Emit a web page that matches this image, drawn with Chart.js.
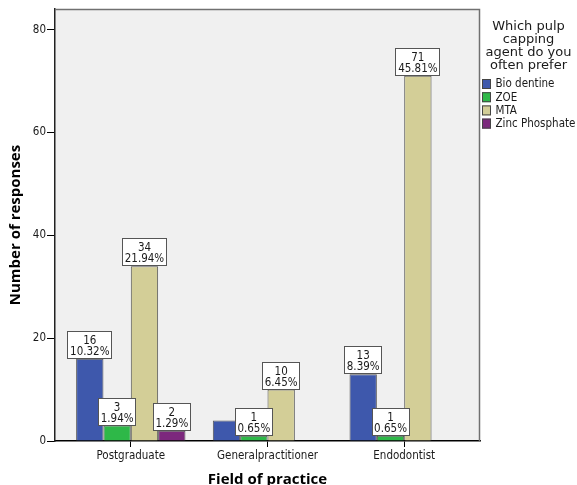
<!DOCTYPE html>
<html>
<head>
<meta charset="utf-8">
<script src="https://cdn.jsdelivr.net/npm/chart.js@4"></script>
<style>
  html, body { margin: 0; padding: 0; background: #fff; }
  #wrap { width: 577px; height: 485px; position: relative; }
</style>
</head>
<body>
<div id="wrap"><canvas id="chart" width="577" height="485"></canvas></div>
<script>
// Field of practice vs. preferred pulp capping agent (counts of responses)
const categories = ['Postgraduate', 'Generalpractitioner', 'Endodontist'];
const seriesNames = ['Bio dentine', 'ZOE', 'MTA', 'Zinc Phosphate'];
const bioDentine = [16, 4, 13];
const zoe = [3, 1, 1];
const mta = [34, 10, 71];
const zincPhosphate = [2, null, null];
const yTicks = [0, 20, 40, 60, 80];
const legendTitle = ['Which pulp', 'capping', 'agent do you', 'often prefer'];
const xTitle = 'Field of practice';
const yTitle = 'Number of responses';

const seriesValues = [bioDentine, zoe, mta, zincPhosphate];
const seriesColors = ['#3E58AC', '#2EB848', '#D3CE97', '#7C287D'];
const total = seriesValues.flat().reduce((s, v) => s + (v || 0), 0);

const smallFont = '"DejaVu Sans Condensed", "DejaVu Sans", sans-serif';
const smallSize = 11.5;
const titleFont = '"Open Sans", "DejaVu Sans", sans-serif';

// Grey plot panel behind the bars, with a thin grey frame on top and right
const plotPanel = {
  id: 'plotPanel',
  beforeDraw(chart) {
    const { ctx, chartArea: a } = chart;
    ctx.save();
    ctx.fillStyle = '#F0F0F0';
    ctx.fillRect(a.left, a.top, a.right - a.left, a.bottom - a.top);
    ctx.restore();
  },
  afterDraw(chart) {
    const { ctx, chartArea: a } = chart;
    ctx.save();
    ctx.strokeStyle = '#707070';
    ctx.lineWidth = 1.5;
    ctx.beginPath();
    ctx.moveTo(a.left, a.top + 0.5);
    ctx.lineTo(a.right - 0.5, a.top + 0.5);
    ctx.lineTo(a.right - 0.5, a.bottom);
    ctx.stroke();
    ctx.restore();
  }
};

// Boxed count / percentage labels above each bar; lower labels win when boxes collide
const valueLabels = {
  id: 'valueLabels',
  afterDatasetsDraw(chart) {
    const ctx = chart.ctx;
    ctx.save();
    ctx.font = smallSize + 'px ' + smallFont;
    const items = [];
    chart.data.datasets.forEach((ds, di) => {
      const meta = chart.getDatasetMeta(di);
      meta.data.forEach((bar, i) => {
        const v = seriesValues[di][i];
        if (v == null) return;
        const lines = [String(v), (v / total * 100).toFixed(2) + '%'];
        const w = Math.ceil(Math.max(...lines.map(t => ctx.measureText(t).width))) + 5;
        const h = 28;
        const base = Math.round(bar.y);
        items.push({ x0: Math.round(bar.x - w / 2), y0: base - h, w, h, lines, cx: bar.x, base });
      });
    });
    items.sort((a, b) => b.base - a.base);
    const kept = [];
    items.forEach(it => {
      const hit = kept.some(k => it.x0 < k.x0 + k.w && k.x0 < it.x0 + it.w &&
                                 it.y0 < k.y0 + k.h && k.y0 < it.y0 + it.h);
      if (!hit) kept.push(it);
    });
    kept.forEach(it => {
      ctx.fillStyle = '#FFFFFF';
      ctx.fillRect(it.x0, it.y0, it.w, it.h);
      ctx.strokeStyle = '#555555';
      ctx.lineWidth = 1;
      ctx.strokeRect(it.x0 + 0.5, it.y0 + 0.5, it.w - 1, it.h - 1);
      ctx.fillStyle = '#1a1a1a';
      ctx.textAlign = 'center';
      ctx.textBaseline = 'alphabetic';
      ctx.fillText(it.lines[0], it.cx, it.base - 15.5);
      ctx.fillText(it.lines[1], it.cx, it.base - 4);
    });
    ctx.restore();
  }
};

// Legend at the right with a wrapped title
const sideLegend = {
  id: 'sideLegend',
  afterDraw(chart) {
    const { ctx, chartArea: a, width } = chart;
    const cx = (a.right + width) / 2;
    ctx.save();
    ctx.fillStyle = '#1a1a1a';
    ctx.font = '13px "DejaVu Sans", sans-serif';
    ctx.textAlign = 'center';
    ctx.textBaseline = 'alphabetic';
    legendTitle.forEach((t, i) => ctx.fillText(t, cx, 29.5 + i * 13.3));
    ctx.font = smallSize + 'px ' + smallFont;
    ctx.textAlign = 'left';
    ctx.textBaseline = 'middle';
    seriesNames.forEach((name, i) => {
      const top = 79 + i * 13.2;
      const bx = a.right + 2;
      ctx.fillStyle = seriesColors[i];
      ctx.fillRect(bx, top, 9, 10);
      ctx.strokeStyle = '#444';
      ctx.lineWidth = 1;
      ctx.strokeRect(bx + 0.5, top + 0.5, 8, 9);
      ctx.fillStyle = '#1a1a1a';
      ctx.fillText(name, bx + 13.5, top + 5.5);
    });
    ctx.restore();
  }
};

const datasets = seriesNames.map((name, si) => ({
  label: name,
  data: seriesValues[si].map((v, i) => ({ x: i, y: v })),
  backgroundColor: seriesColors[si],
  borderColor: '#555555',
  borderWidth: 1
}));

new Chart(document.getElementById('chart'), {
  type: 'bar',
  data: { datasets },
  plugins: [plotPanel, valueLabels, sideLegend],
  options: {
    responsive: false,
    animation: false,
    events: [],
    layout: { padding: { left: 0, right: 97, top: 9, bottom: 0 } },
    datasets: { bar: { categoryPercentage: 0.8, barPercentage: 1.0 } },
    plugins: { legend: { display: false }, tooltip: { enabled: false } },
    scales: {
      x: {
        type: 'linear',
        min: -0.5545,
        max: 2.5545,
        offset: false,
        z: 1,
        afterFit(s) { s.height = 44; },
        afterBuildTicks(s) { s.ticks = categories.map((_, i) => ({ value: i })); },
        ticks: {
          callback: v => categories[v],
          font: { family: smallFont, size: smallSize },
          color: '#1a1a1a',
          padding: 2,
          maxRotation: 0,
          autoSkip: false
        },
        grid: { offset: false, drawOnChartArea: false, drawTicks: true, tickLength: 6, color: '#000', lineWidth: 1 },
        border: { display: true, color: '#000', width: 1.5 },
        title: {
          display: true,
          text: xTitle,
          color: '#000',
          font: { family: titleFont, size: 15, weight: 'bold' },
          padding: { top: 0, bottom: -3.5 }
        }
      },
      y: {
        min: 0,
        max: 84,
        afterFit(s) { s.width = 55; },
        afterBuildTicks(s) { s.ticks = yTicks.map(v => ({ value: v })); },
        ticks: {
          font: { family: smallFont, size: smallSize },
          color: '#1a1a1a',
          padding: 1
        },
        grid: { drawOnChartArea: false, drawTicks: true, tickLength: 8, color: '#000', lineWidth: 1 },
        border: { display: true, color: '#222', width: 1.5 },
        title: {
          display: true,
          text: yTitle,
          color: '#000',
          font: { family: titleFont, size: 15, weight: 'bold' },
          padding: { top: 7, bottom: 0 }
        }
      }
    }
  }
});
</script>
</body>
</html>
